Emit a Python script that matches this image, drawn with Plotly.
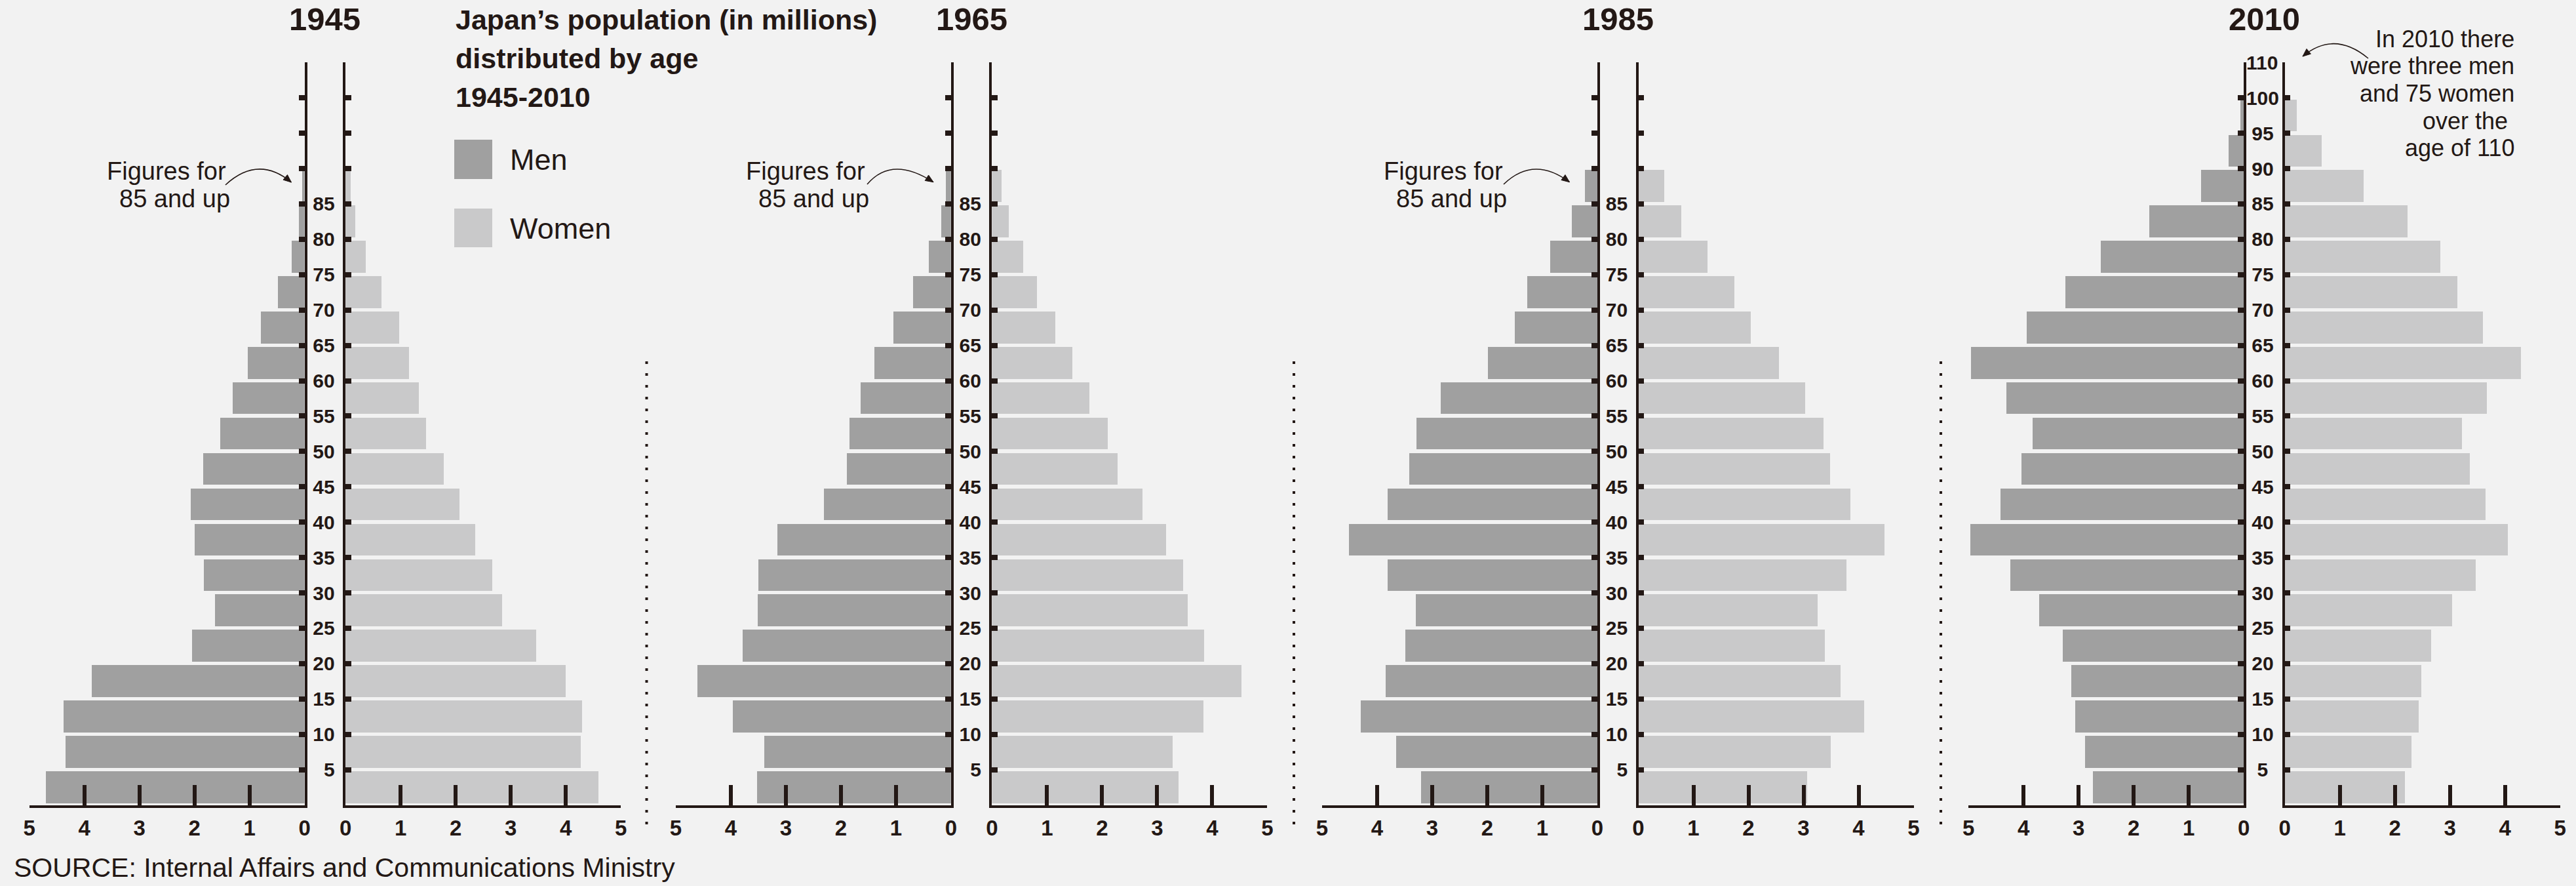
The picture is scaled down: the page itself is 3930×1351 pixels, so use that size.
import plotly.graph_objects as go

# ---------------- data (millions of people) ----------------
years = ["1945", "1965", "1985", "2010"]
age_group_start = [0, 5, 10, 15, 20, 25, 30, 35, 40, 45, 50, 55, 60, 65, 70, 75, 80, 85, 90, 95]

men_1945 = [4.70, 4.35, 4.38, 3.87, 2.05, 1.63, 1.83, 2.00, 2.07, 1.85, 1.53, 1.31, 1.03, 0.80, 0.49, 0.24, 0.11, 0.05]
women_1945 = [4.59, 4.27, 4.30, 4.00, 3.47, 2.84, 2.67, 2.36, 2.07, 1.79, 1.47, 1.33, 1.16, 0.98, 0.66, 0.37, 0.18, 0.09]

men_1965 = [3.52, 3.39, 3.96, 4.61, 3.78, 3.51, 3.50, 3.16, 2.31, 1.89, 1.85, 1.64, 1.39, 1.05, 0.69, 0.40, 0.18, 0.09]
women_1965 = [3.39, 3.29, 3.84, 4.54, 3.86, 3.56, 3.48, 3.17, 2.74, 2.29, 2.11, 1.77, 1.47, 1.15, 0.82, 0.57, 0.31, 0.18]

men_1985 = [3.20, 3.65, 4.30, 3.84, 3.49, 3.30, 3.81, 4.51, 3.81, 3.42, 3.28, 2.85, 1.99, 1.50, 1.27, 0.86, 0.46, 0.23]
women_1985 = [3.06, 3.49, 4.10, 3.67, 3.38, 3.25, 3.77, 4.47, 3.84, 3.48, 3.36, 3.02, 2.55, 2.04, 1.74, 1.25, 0.77, 0.46]

men_2010 = [2.74, 2.88, 3.06, 3.13, 3.29, 3.71, 4.24, 4.97, 4.42, 4.04, 3.83, 4.31, 4.95, 3.94, 3.24, 2.60, 1.72, 0.77, 0.27, 0.06]
women_2010 = [2.18, 2.30, 2.43, 2.48, 2.66, 3.03, 3.46, 4.05, 3.64, 3.36, 3.22, 3.67, 4.29, 3.60, 3.13, 2.82, 2.23, 1.43, 0.67, 0.22]

population_ticks = [0, 1, 2, 3, 4, 5]
population_tick_labels = ["0", "1", "2", "3", "4", "5"]
age_tick_vals = [5, 10, 15, 20, 25, 30, 35, 40, 45, 50, 55, 60, 65, 70, 75, 80, 85, 90, 95, 100, 105]
age_tick_labels = ["5", "10", "15", "20", "25", "30", "35", "40", "45", "50", "55", "60",
                   "65", "70", "75", "80", "85", "", "", "", ""]
age_tick_labels_2010 = ["5", "10", "15", "20", "25", "30", "35", "40", "45", "50", "55", "60",
                        "65", "70", "75", "80", "85", "90", "95", "100", "110"]

men_series = [men_1945, men_1965, men_1985, men_2010]
women_series = [women_1945, women_1965, women_1985, women_2010]
age_label_series = [age_tick_labels, age_tick_labels, age_tick_labels, age_tick_labels_2010]

# ---------------- styling / layout helpers ----------------
W, H = 3930, 1351
BG = "#f2f2f2"
INK = "#231815"
MEN_COLOR = "#a0a0a0"
WOMEN_COLOR = "#c9c9ca"
REG = "Liberation Sans, Arial, sans-serif"
TICKFONT = "Liberation Sans, Arial, sans-serif"
FIG_SP = "\u2007"   # digit-wide space
HALF_SP = "\u2008"  # half-digit space (punctuation space)


def X(px):
    return px / W


def Y(py):
    return 1 - py / H


PANEL0 = 44.6
PERIOD = 986.2
HALF = 420.0
GAP = 62.5
Y_BOTTOM = 1227.5
Y_TOP = 95.3

fig = go.Figure()
layout = dict(
    template="none",
    width=W, height=H, margin=dict(l=0, r=0, t=0, b=0, pad=0, autoexpand=False),
    paper_bgcolor=BG, plot_bgcolor=BG, showlegend=False, bargap=0,
)

for p, year in enumerate(years):
    L = PANEL0 + PERIOD * p
    n = len(men_series[p])
    centers = [a + 2.5 for a in age_group_start[:n]]
    ia, ib = 2 * p + 1, 2 * p + 2
    fig.add_trace(go.Bar(x=men_series[p], y=centers, orientation="h", width=4.5,
                         marker=dict(color=MEN_COLOR, line=dict(width=0)),
                         xaxis=f"x{ia}", yaxis=f"y{ia}", name="Men", hoverinfo="x+y"))
    fig.add_trace(go.Bar(x=women_series[p], y=centers, orientation="h", width=4.5,
                         marker=dict(color=WOMEN_COLOR, line=dict(width=0)),
                         xaxis=f"x{ib}", yaxis=f"y{ib}", name="Women", hoverinfo="x+y"))

    xcommon = dict(
        tickvals=population_ticks, ticktext=population_tick_labels,
        ticks="inside", ticklen=31, tickwidth=6, tickcolor=INK,
        showline=True, linewidth=4, linecolor=INK, showgrid=False, zeroline=False,
        tickfont=dict(family=TICKFONT, size=33, color=INK, weight="bold"),
        ticklabelstandoff=3, fixedrange=True, automargin=False,
    )
    layout[f"xaxis{ia}"] = dict(xcommon, domain=[X(L), X(L + HALF)], range=[5, 0], anchor=f"y{ia}")
    layout[f"xaxis{ib}"] = dict(xcommon, domain=[X(L + HALF + GAP), X(L + 2 * HALF + GAP)],
                                range=[0, 5], anchor=f"y{ib}")

    raw = age_label_series[p]
    widest = max(len(t) for t in raw)
    labels = []
    for t in raw:
        if not t:
            labels.append(t)
            continue
        if widest > 2:
            # centre shorter labels inside a 3-digit slot
            missing = widest - len(t)
            pad = FIG_SP * (missing // 2) + HALF_SP * (missing % 2)
        else:
            pad = FIG_SP * (2 - len(t))
        labels.append(pad + t)
    ycommon = dict(
        domain=[Y(Y_BOTTOM), Y(Y_TOP)], range=[0, 105],
        tickvals=age_tick_vals, ticks="inside", ticklen=9, tickwidth=8, tickcolor=INK,
        showline=True, linewidth=3.5, linecolor=INK, showgrid=False, zeroline=False,
        fixedrange=True, automargin=False,
    )
    layout[f"yaxis{ia}"] = dict(ycommon, anchor=f"x{ia}", side="right", ticktext=labels,
                                showticklabels=True, ticklabelstandoff=(3 if widest <= 2 else -6),
                                tickfont=dict(family=TICKFONT, size=30, color=INK, weight="bold"))
    layout[f"yaxis{ib}"] = dict(ycommon, anchor=f"x{ib}", side="left", showticklabels=False)

fig.update_layout(**layout)

ann = []
shapes = []


def text(x, y, s, size, bold=False, xanchor="center", family=REG):
    ann.append(dict(x=X(x), y=Y(y), xref="paper", yref="paper", text=s, showarrow=False,
                    xanchor=xanchor, yanchor="middle",
                    font=dict(family=family, size=size, color=INK, weight="bold" if bold else "normal")))


# year titles centred over each gap
for p, year in enumerate(years):
    L = PANEL0 + PERIOD * p
    text(L + HALF + GAP / 2, 29, year, 49, bold=True)

# main title
text(693, 30, "Japan\u2019s population (in millions)", 43, bold=True, xanchor="left")
text(693, 89, "distributed by age", 43, bold=True, xanchor="left")
text(693, 147.5, "1945-2010", 43, bold=True, xanchor="left")

# legend
shapes.append(dict(type="rect", xref="paper", yref="paper", x0=X(693), x1=X(751), y0=Y(273), y1=Y(213),
                   fillcolor=MEN_COLOR, line=dict(width=0)))
shapes.append(dict(type="rect", xref="paper", yref="paper", x0=X(693), x1=X(751), y0=Y(377), y1=Y(318),
                   fillcolor=WOMEN_COLOR, line=dict(width=0)))
text(776, 243.5, "Men", 45, xanchor="left")
text(776, 348, "Women", 45, xanchor="left")

# "Figures for 85 and up" notes
for cx in [254, 1229, 2202]:
    text(cx, 261, "Figures for", 38)
    text(cx + 12, 303, "85 and up", 38)

# 2010 note
for yy, line in zip([59.3, 101, 142.7, 184.3, 226],
                    ["In 2010 there", "were three men", "and 75 women", "over the", "age of 110"]):
    text(3828 if line == "over the" else 3838, yy, line, 36, xanchor="right")

# source
text(19, 1323, "SOURCE: Internal Affairs and Communications Ministry", 41, xanchor="left")


# curved arrows
def curved_arrow(p0, peak, p2):
    cx = 2 * peak[0] - 0.5 * (p0[0] + p2[0])
    cy = 2 * peak[1] - 0.5 * (p0[1] + p2[1])
    path = f"M{X(p0[0])},{Y(p0[1])} Q{X(cx)},{Y(cy)} {X(p2[0])},{Y(p2[1])}"
    shapes.append(dict(type="path", xref="paper", yref="paper", path=path,
                       line=dict(color=INK, width=1.6)))
    dx, dy = p2[0] - cx, p2[1] - cy
    ln = (dx * dx + dy * dy) ** 0.5
    dx, dy = dx / ln, dy / ln
    bx, by = p2[0] - dx * 12, p2[1] - dy * 12
    nx, ny = -dy * 5, dx * 5
    tri = (f"M{X(p2[0])},{Y(p2[1])} L{X(bx + nx)},{Y(by + ny)} "
           f"L{X(bx - nx)},{Y(by - ny)} Z")
    shapes.append(dict(type="path", xref="paper", yref="paper", path=tri,
                       fillcolor=INK, line=dict(color=INK, width=1)))


curved_arrow((344, 282), (394, 258), (444.5, 278))
curved_arrow((1323, 281), (1367, 258), (1424, 277.7))
curved_arrow((2294, 281), (2342, 258), (2394.5, 277.7))
curved_arrow((3613, 89), (3562, 66.7), (3513, 86))

# dotted separators
for xs in [986.5, 1974, 2961]:
    shapes.append(dict(type="line", xref="paper", yref="paper", x0=X(xs), x1=X(xs),
                       y0=Y(551), y1=Y(1271), line=dict(color=INK, width=4, dash="4px,14px")))

fig.update_layout(annotations=ann, shapes=shapes)
fig.write_html(
    "out.html",
    config={"displayModeBar": False},
    post_script="document.body.style.margin='0';document.body.style.overflow='hidden';",
)
